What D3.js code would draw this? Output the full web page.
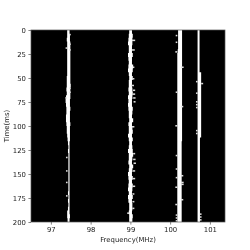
<!DOCTYPE html>
<html><head><meta charset="utf-8">
<script src="https://cdn.jsdelivr.net/npm/d3@7"></script>
<style>html,body{margin:0;padding:0;background:#fff}svg{display:block;filter:blur(.3px)}text{font-family:"DejaVu Sans",sans-serif}</style>
</head><body><svg id="c" width="250" height="250"></svg>
<script>
const xTicks=[97,98,99,100,101];
const yTicks=[0,25,50,75,100,125,150,175,200];
const freqDomain=[96.5,101.38];
const timeDomain=[0,200];
const rowMs=4;
// one row per 4 ms: left and right frequency edge of each band, MHz (last row closes at 200 ms)
const band1Left=[97.42,97.41,97.41,97.4,97.41,97.41,97.41,97.41,97.41,97.41,97.41,97.41,97.41,97.4,97.4,97.4,97.39,97.4,97.38,97.37,97.38,97.39,97.39,97.38,97.38,97.39,97.4,97.4,97.41,97.42,97.43,97.44,97.43,97.44,97.44,97.44,97.44,97.44,97.44,97.44,97.44,97.44,97.44,97.43,97.44,97.43,97.44,97.43,97.41,97.41,97.42];
const band1Right=[97.47,97.47,97.48,97.48,97.49,97.49,97.49,97.49,97.49,97.49,97.49,97.49,97.49,97.49,97.49,97.5,97.49,97.49,97.49,97.48,97.48,97.49,97.48,97.48,97.48,97.49,97.48,97.48,97.48,97.48,97.47,97.47,97.47,97.47,97.47,97.47,97.47,97.47,97.47,97.47,97.47,97.47,97.47,97.47,97.47,97.47,97.47,97.47,97.47,97.48,97.47];
const band2Left=[98.96,98.97,98.96,98.95,98.94,98.96,98.96,98.94,98.95,98.96,98.95,98.94,98.96,98.97,98.96,98.96,98.95,98.96,98.94,98.95,98.94,98.95,98.96,98.96,98.97,98.95,98.96,98.96,98.94,98.96,98.97,98.96,98.94,98.96,98.96,98.95,98.97,98.96,98.94,98.95,98.96,98.95,98.94,98.96,98.94,98.95,98.97,98.97,98.96,98.97,98.97];
const band2Right=[99.03,99.04,99.06,99.05,99.05,99.04,99.04,99.06,99.04,99.04,99.07,99.06,99.04,99.06,99.04,99.04,99.05,99.06,99.05,99.04,99.04,99.06,99.05,99.04,99.07,99.04,99.05,99.06,99.04,99.06,99.04,99.05,99.06,99.07,99.05,99.04,99.07,99.05,99.04,99.06,99.04,99.06,99.05,99.04,99.06,99.04,99.05,99.05,99.04,99.06,99.05];
const band3Left=[100.2,100.2,100.2,100.2,100.2,100.2,100.19,100.18,100.18,100.18,100.18,100.18,100.18,100.18,100.18,100.18,100.18,100.18,100.18,100.18,100.18,100.18,100.18,100.18,100.18,100.18,100.18,100.18,100.18,100.18,100.18,100.18,100.18,100.18,100.18,100.18,100.18,100.18,100.18,100.18,100.18,100.18,100.18,100.18,100.18,100.18,100.18,100.18,100.18,100.18,100.18];
const band3Right=[100.3,100.3,100.3,100.3,100.3,100.3,100.3,100.3,100.3,100.3,100.3,100.3,100.3,100.3,100.3,100.3,100.3,100.3,100.3,100.3,100.3,100.3,100.3,100.3,100.3,100.3,100.3,100.3,100.3,100.3,100.29,100.29,100.29,100.29,100.29,100.29,100.29,100.29,100.29,100.29,100.29,100.29,100.29,100.29,100.29,100.29,100.29,100.29,100.29,100.29,100.29];
const band4Left=[100.69,100.69,100.69,100.69,100.69,100.69,100.69,100.69,100.69,100.69,100.69,100.69,100.69,100.69,100.69,100.69,100.69,100.69,100.69,100.69,100.69,100.69,100.69,100.69,100.69,100.69,100.69,100.69,100.69,100.69,100.69,100.69,100.69,100.69,100.69,100.69,100.69,100.69,100.69,100.69,100.69,100.69,100.69,100.69,100.69,100.69,100.69,100.69,100.69,100.69,100.69];
const band4Right=[100.74,100.74,100.74,100.74,100.74,100.74,100.74,100.74,100.74,100.74,100.74,100.74,100.78,100.78,100.78,100.78,100.78,100.78,100.78,100.78,100.78,100.78,100.78,100.78,100.78,100.78,100.78,100.78,100.78,100.75,100.75,100.75,100.75,100.75,100.75,100.75,100.75,100.75,100.75,100.75,100.75,100.75,100.75,100.75,100.75,100.75,100.75,100.75,100.75,100.75,100.75];
// short flecks beside the bands
const fleckTime=[4,18,14,20,60,64,70,132,146,158,172,10,20,38,50,57,62,66,70,74,100,128,134,138,146,154,162,170,178,185,190,5,12,22,38,64,79,99,130,144,151,153,158,160,163,176,181,192,195,198,53,55,65,74,77,80,104,107,191,194,197];
const fleckLeft=[97.47,97.37,97.47,97.47,97.47,97.47,97.36,97.38,97.38,97.38,97.38,99.04,99.04,99.06,99.04,99.02,99.06,99.06,99.07,99.08,99.04,99.07,99.07,99.08,99.06,99.06,99.06,99.05,99.05,99.05,98.92,100.14,100.14,100.13,100.28,100.14,100.28,100.13,100.14,100.14,100.27,100.14,100.27,100.27,100.13,100.27,100.13,100.14,100.14,100.14,100.65,100.78,100.65,100.65,100.65,100.65,100.65,100.65,100.75,100.75,100.75];
const fleckRight=[97.5,97.41,97.5,97.5,97.5,97.5,97.4,97.42,97.42,97.42,97.42,99.12,99.11,99.1,99.1,99.09,99.12,99.12,99.13,99.13,99.1,99.12,99.13,99.14,99.12,99.12,99.12,99.1,99.1,99.1,98.97,100.18,100.18,100.18,100.34,100.18,100.33,100.18,100.18,100.18,100.33,100.18,100.34,100.34,100.18,100.33,100.18,100.18,100.18,100.18,100.69,100.83,100.69,100.69,100.69,100.69,100.69,100.69,100.79,100.79,100.79];

const plot={l:31,t:30,r:225,b:222};
const x=d3.scaleLinear().domain(freqDomain).range([plot.l,plot.r]);
const y=d3.scaleLinear().domain(timeDomain).range([plot.t,plot.b]);
const svg=d3.select("#c");
svg.append("rect").attr("x",plot.l).attr("y",plot.t).attr("width",plot.r-plot.l).attr("height",plot.b-plot.t).attr("fill","#000");
const bandArea=d3.area().curve(d3.curveStepAfter).y(d=>y(d.t)).x0(d=>x(d.l)).x1(d=>x(d.r));
const bands=[[band1Left,band1Right],[band2Left,band2Right],[band3Left,band3Right],[band4Left,band4Right]];
svg.append("g").selectAll("path").data(bands).join("path").attr("fill","#fff")
 .attr("d",([L,R])=>{
   const rows=L.map((l,i)=>({t:Math.min(i*rowMs,timeDomain[1]),l,r:R[i]}));
   return bandArea(rows);
 });
svg.append("g").selectAll("rect").data(fleckTime).join("rect")
 .attr("x",(d,i)=>x(fleckLeft[i])).attr("width",(d,i)=>x(fleckRight[i])-x(fleckLeft[i]))
 .attr("y",d=>y(d)).attr("height",d=>y(d+1.6)-y(d)).attr("fill","#ddd");
const gx=svg.append("g").attr("transform",`translate(0,${plot.b})`).call(d3.axisBottom(x).tickValues(xTicks).tickFormat(d3.format("d")).tickSize(2.6).tickPadding(2.5));
const gy=svg.append("g").attr("transform",`translate(${plot.l},0)`).call(d3.axisLeft(y).tickValues(yTicks).tickSize(2.6).tickPadding(2.5));
[gx,gy].forEach(g=>{g.selectAll("text").attr("font-size",6.9).attr("fill","#222").style("font-family",'"DejaVu Sans"');
 g.selectAll("line").attr("stroke","#333").attr("stroke-width",.6);g.select(".domain").remove();});
svg.append("rect").attr("x",plot.l).attr("y",plot.t).attr("width",plot.r-plot.l).attr("height",plot.b-plot.t).attr("fill","none").attr("stroke","#555").attr("stroke-width",.7);
svg.append("text").attr("x",(plot.l+plot.r)/2).attr("y",242).attr("text-anchor","middle").attr("font-size",6.9).attr("fill","#222").text("Frequency(MHz)");
svg.append("text").attr("transform",`translate(8.5,${(plot.t+plot.b)/2}) rotate(-90)`).attr("text-anchor","middle").attr("font-size",6.9).attr("fill","#222").text("Time(ms)");
</script></body></html>
